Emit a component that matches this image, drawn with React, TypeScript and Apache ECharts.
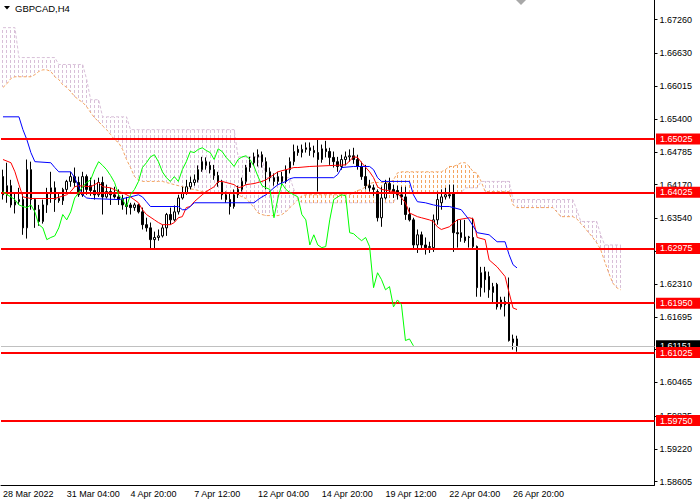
import React, { useEffect, useRef } from 'react';
import * as echarts from 'echarts';

// GBPCAD H4, bars from 28 Mar 2022 12:00, 164 slots (130 bars + 34 future)
const slotCount = 164;
const xTickLabels = ['28 Mar 2022', '31 Mar 04:00', '4 Apr 20:00', '7 Apr 12:00', '12 Apr 04:00', '14 Apr 20:00', '19 Apr 12:00', '22 Apr 04:00', '26 Apr 20:00'];
const yTickValues = [1.6726, 1.6663, 1.66015, 1.654, 1.64785, 1.6417, 1.6354, 1.62925, 1.6231, 1.61695, 1.6108, 1.60465, 1.59835, 1.5922, 1.58605];
const levels = [1.65025, 1.64025, 1.62975, 1.6195, 1.61025, 1.5975];
const lastPrice = 1.61151;

const open = [
  1.6432, 1.6398, 1.6415, 1.6379, 1.6385, 1.6389, 1.6336, 1.6445, 1.6389, 1.6370,
  1.6348, 1.6379, 1.6400, 1.6411, 1.6391, 1.6387, 1.6408, 1.6423, 1.6432, 1.6421,
  1.6398, 1.6432, 1.6415, 1.6406, 1.6398, 1.6421, 1.6394, 1.6404, 1.6398, 1.6394,
  1.6389, 1.6379, 1.6379, 1.6374, 1.6379, 1.6366, 1.6342, 1.6336, 1.6314, 1.6318,
  1.6321, 1.6336, 1.6361, 1.6351, 1.6366, 1.6392, 1.6402, 1.6413, 1.6421, 1.6426,
  1.6445, 1.6460, 1.6453, 1.6445, 1.6434, 1.6421, 1.6398, 1.6389, 1.6376, 1.6398,
  1.6408, 1.6423, 1.6449, 1.6458, 1.6469, 1.6473, 1.6460, 1.6441, 1.6430, 1.6423,
  1.6432, 1.6423, 1.6445, 1.6460, 1.6483, 1.6477, 1.6483, 1.6486, 1.6481, 1.6477,
  1.6464, 1.6484, 1.6479, 1.6468, 1.6460, 1.6451, 1.6464, 1.6469, 1.6471, 1.6464,
  1.6451, 1.6432, 1.6415, 1.6411, 1.6404, 1.6355, 1.6392, 1.6419, 1.6408, 1.6406,
  1.6398, 1.6394, 1.6361, 1.6351, 1.6304, 1.6323, 1.6304, 1.6299, 1.6299, 1.6351,
  1.6383, 1.6394, 1.6398, 1.6402, 1.6327, 1.6327, 1.6319, 1.6319, 1.6318, 1.6301,
  1.6224, 1.6254, 1.6245, 1.6215, 1.6230, 1.6188, 1.6198, 1.6194, 1.6121, 1.6128,
];
const close = [
  1.6398, 1.6415, 1.6379, 1.6385, 1.6389, 1.6336, 1.6445, 1.6389, 1.6370, 1.6348,
  1.6379, 1.6400, 1.6411, 1.6389, 1.6387, 1.6408, 1.6423, 1.6432, 1.6421, 1.6398,
  1.6432, 1.6408, 1.6406, 1.6398, 1.6421, 1.6394, 1.6404, 1.6398, 1.6394, 1.6389,
  1.6379, 1.6376, 1.6374, 1.6379, 1.6366, 1.6342, 1.6336, 1.6314, 1.6318, 1.6321,
  1.6336, 1.6361, 1.6351, 1.6366, 1.6392, 1.6402, 1.6413, 1.6421, 1.6426, 1.6445,
  1.6460, 1.6453, 1.6445, 1.6434, 1.6421, 1.6398, 1.6389, 1.6376, 1.6398, 1.6408,
  1.6423, 1.6449, 1.6458, 1.6469, 1.6473, 1.6460, 1.6441, 1.6430, 1.6423, 1.6432,
  1.6423, 1.6445, 1.6460, 1.6479, 1.6477, 1.6483, 1.6486, 1.6481, 1.6477, 1.6464,
  1.6484, 1.6479, 1.6468, 1.6460, 1.6451, 1.6464, 1.6469, 1.6471, 1.6464, 1.6451,
  1.6432, 1.6415, 1.6411, 1.6408, 1.6355, 1.6392, 1.6419, 1.6408, 1.6402, 1.6398,
  1.6394, 1.6361, 1.6351, 1.6304, 1.6323, 1.6304, 1.6299, 1.6301, 1.6351, 1.6389,
  1.6394, 1.6398, 1.6396, 1.6327, 1.6325, 1.6318, 1.6312, 1.6318, 1.6301, 1.6224,
  1.6252, 1.6239, 1.6220, 1.6226, 1.6188, 1.6201, 1.6192, 1.6125, 1.6128, 1.61151,
];
const low = [
  1.6389, 1.6383, 1.6374, 1.6363, 1.6379, 1.6323, 1.6316, 1.6370, 1.6336, 1.6340,
  1.6344, 1.6364, 1.6383, 1.6366, 1.6383, 1.6379, 1.6402, 1.6413, 1.6413, 1.6394,
  1.6394, 1.6398, 1.6396, 1.6389, 1.6394, 1.6361, 1.6391, 1.6379, 1.6391, 1.6379,
  1.6370, 1.6361, 1.6361, 1.6368, 1.6363, 1.6333, 1.6329, 1.6295, 1.6295, 1.6312,
  1.6318, 1.6321, 1.6342, 1.6348, 1.6361, 1.6389, 1.6398, 1.6408, 1.6415, 1.6421,
  1.6441, 1.6445, 1.6438, 1.6426, 1.6413, 1.6389, 1.6383, 1.6361, 1.6372, 1.6392,
  1.6404, 1.6417, 1.6441, 1.6453, 1.6451, 1.6449, 1.6408, 1.6423, 1.6415, 1.6417,
  1.6415, 1.6419, 1.6438, 1.6453, 1.6471, 1.6468, 1.6477, 1.6471, 1.6468, 1.6404,
  1.6458, 1.6468, 1.6454, 1.6449, 1.6441, 1.6445, 1.6453, 1.6460, 1.6456, 1.6445,
  1.6426, 1.6408, 1.6404, 1.6396, 1.6348, 1.6338, 1.6389, 1.6402, 1.6392, 1.6389,
  1.6379, 1.6351, 1.6348, 1.6295, 1.6289, 1.6295, 1.6286, 1.6289, 1.6291, 1.6342,
  1.6370, 1.6389, 1.6391, 1.6291, 1.6299, 1.6310, 1.6308, 1.6299, 1.6297, 1.6207,
  1.6207, 1.6215, 1.6205, 1.6196, 1.6183, 1.6183, 1.6170, 1.6123, 1.6108, 1.6104,
];
const high = [
  1.6445, 1.6458, 1.6426, 1.6402, 1.6411, 1.6402, 1.6464, 1.6460, 1.6392, 1.6379,
  1.6389, 1.6411, 1.6441, 1.6423, 1.6402, 1.6411, 1.6426, 1.6441, 1.6449, 1.6432,
  1.6441, 1.6436, 1.6430, 1.6426, 1.6430, 1.6432, 1.6417, 1.6411, 1.6413, 1.6408,
  1.6398, 1.6394, 1.6383, 1.6383, 1.6381, 1.6374, 1.6355, 1.6346, 1.6329, 1.6333,
  1.6342, 1.6364, 1.6374, 1.6378, 1.6398, 1.6413, 1.6426, 1.6432, 1.6436, 1.6453,
  1.6469, 1.6468, 1.6460, 1.6454, 1.6441, 1.6426, 1.6404, 1.6402, 1.6408, 1.6415,
  1.6430, 1.6454, 1.6469, 1.6477, 1.6483, 1.6479, 1.6468, 1.6449, 1.6438, 1.6441,
  1.6441, 1.6453, 1.6468, 1.6492, 1.6490, 1.6492, 1.6496, 1.6496, 1.6490, 1.6501,
  1.6492, 1.6499, 1.6486, 1.6479, 1.6469, 1.6473, 1.6479, 1.6483, 1.6486, 1.6473,
  1.6460, 1.6454, 1.6426, 1.6417, 1.6408, 1.6413, 1.6426, 1.6430, 1.6417, 1.6415,
  1.6413, 1.6413, 1.6374, 1.6355, 1.6333, 1.6329, 1.6318, 1.6310, 1.6361, 1.6404,
  1.6408, 1.6411, 1.6417, 1.6417, 1.6351, 1.6351, 1.6351, 1.6321, 1.6355, 1.6303,
  1.6263, 1.6263, 1.6254, 1.6233, 1.6233, 1.6207, 1.6207, 1.6243, 1.6136, 1.6134,
];

// Tenkan-sen and Kijun-sen, [bar index, price] at the points where they turn
const tenkan = [
  [0, 1.6464], [2, 1.6458], [3, 1.6441], [4, 1.6417], [5, 1.6394], [7, 1.6391], [13, 1.6391],
  [16, 1.6398], [17, 1.6404], [18, 1.6413], [19, 1.6415], [22, 1.6413], [24, 1.6421], [25, 1.6413],
  [27, 1.6411], [29, 1.6404], [30, 1.6402], [32, 1.6394], [34, 1.6383], [35, 1.6370], [36, 1.6361],
  [38, 1.6351], [39, 1.6346], [40, 1.6342], [42, 1.6342], [43, 1.6346], [44, 1.6355], [45, 1.6357],
  [46, 1.6374], [47, 1.6376], [48, 1.6385], [50, 1.6398], [51, 1.6404], [53, 1.6413], [54, 1.6423],
  [55, 1.6423], [56, 1.6421], [58, 1.6417], [59, 1.6411], [60, 1.6413], [61, 1.6417], [63, 1.6419],
  [65, 1.6423], [66, 1.6426], [68, 1.6436], [69, 1.6441], [71, 1.6445], [73, 1.6449], [74, 1.6449],
  [77, 1.6451], [86, 1.6454], [88, 1.6469], [89, 1.6468], [90, 1.6458], [92, 1.6441], [93, 1.6430],
  [94, 1.6413], [95, 1.6408], [98, 1.6404], [99, 1.6402], [100, 1.6392], [101, 1.6383], [102, 1.6364],
  [104, 1.6357], [105, 1.6355], [107, 1.6351], [108, 1.6348], [109, 1.6338], [110, 1.6333], [112, 1.6338],
  [114, 1.6351], [117, 1.6355], [118, 1.6353], [119, 1.6318], [121, 1.6314], [122, 1.6276], [124, 1.6263],
  [126, 1.6245], [127, 1.6215], [128, 1.6186], [129, 1.6183],
];
const kijun = [
  [0, 1.6544], [4, 1.6544], [5, 1.6520], [6, 1.6501], [7, 1.6477], [8, 1.6460], [12, 1.6458],
  [13, 1.6449], [14, 1.6441], [17, 1.6441], [18, 1.6430], [19, 1.6413], [20, 1.6398], [21, 1.6392],
  [22, 1.6391], [29, 1.6389], [32, 1.6394], [34, 1.6398], [35, 1.6394], [36, 1.6385], [37, 1.6376],
  [44, 1.6376], [45, 1.6370], [46, 1.6370], [47, 1.6376], [48, 1.6383], [63, 1.6383], [64, 1.6389],
  [65, 1.6394], [66, 1.6398], [68, 1.6411], [69, 1.6417], [71, 1.6423], [72, 1.6428], [73, 1.6430],
  [83, 1.6430], [84, 1.6436], [85, 1.6449], [88, 1.6451], [92, 1.6451], [93, 1.6445], [94, 1.6430],
  [95, 1.6423], [102, 1.6423], [103, 1.6398], [104, 1.6385], [106, 1.6383], [108, 1.6379], [110, 1.6376],
  [112, 1.6376], [115, 1.6370], [117, 1.6351], [119, 1.6327], [122, 1.6323], [124, 1.6310], [126, 1.6310],
  [127, 1.6286], [128, 1.6267], [129, 1.6261],
];

// Senkou span A and B, one value per slot (already displaced 26 bars ahead)
const spanA = [
  1.6599, 1.6606, 1.6616, 1.6619, 1.6619, 1.6619, 1.6619, 1.6619, 1.6623, 1.6629,
  1.6632, 1.6632, 1.6629, 1.6619, 1.6614, 1.6604, 1.6599, 1.6591, 1.6582, 1.6576,
  1.6571, 1.6563, 1.6552, 1.6542, 1.6535, 1.6527, 1.6520, 1.6511, 1.6501, 1.6496,
  1.6483, 1.6464, 1.6449, 1.6432, 1.6426, 1.6423, 1.6423, 1.6423, 1.6423, 1.6423,
  1.6423, 1.6421, 1.6419, 1.6417, 1.6415, 1.6413, 1.6411, 1.6409, 1.6408, 1.6406,
  1.6404, 1.6404, 1.6402, 1.6402, 1.6402, 1.6402, 1.6402, 1.6402, 1.6402, 1.6398,
  1.6394, 1.6391, 1.6383, 1.6374, 1.6364, 1.6361, 1.6359, 1.6359, 1.6359, 1.6359,
  1.6361, 1.6366, 1.6374, 1.6381, 1.6389, 1.6396, 1.6398, 1.6398, 1.6398, 1.6398,
  1.6398, 1.6398, 1.6398, 1.6398, 1.6398, 1.6398, 1.6398, 1.6398, 1.6402, 1.6406,
  1.6408, 1.6413, 1.6419, 1.6421, 1.6421, 1.6421, 1.6421, 1.6421, 1.6426, 1.6439,
  1.6441, 1.6441, 1.6441, 1.6441, 1.6441, 1.6441, 1.6441, 1.6441, 1.6441, 1.6441,
  1.6441, 1.6445, 1.6451, 1.6451, 1.6454, 1.6458, 1.6458, 1.6451, 1.6441, 1.6438,
  1.6423, 1.6404, 1.6404, 1.6404, 1.6404, 1.6404, 1.6404, 1.6404, 1.6379, 1.6374,
  1.6374, 1.6374, 1.6374, 1.6374, 1.6374, 1.6374, 1.6374, 1.6374, 1.6374, 1.6366,
  1.6357, 1.6357, 1.6357, 1.6357, 1.6353, 1.6344, 1.6336, 1.6327, 1.6318, 1.6308,
  1.6295, 1.6273, 1.6252, 1.6233, 1.6224, 1.6220,
];
const spanB = [
  1.6711, 1.6711, 1.6711, 1.6711, 1.6655, 1.6655, 1.6655, 1.6655, 1.6655, 1.6655,
  1.6655, 1.6655, 1.6655, 1.6655, 1.6642, 1.6642, 1.6642, 1.6642, 1.6642, 1.6642,
  1.6642, 1.6614, 1.6576, 1.6576, 1.6576, 1.6544, 1.6544, 1.6544, 1.6544, 1.6544,
  1.6544, 1.6544, 1.6520, 1.6520, 1.6520, 1.6520, 1.6520, 1.6520, 1.6520, 1.6520,
  1.6520, 1.6520, 1.6520, 1.6520, 1.6520, 1.6520, 1.6520, 1.6520, 1.6520, 1.6520,
  1.6520, 1.6520, 1.6520, 1.6520, 1.6520, 1.6520, 1.6520, 1.6520, 1.6520, 1.6469,
  1.6469, 1.6469, 1.6469, 1.6469, 1.6469, 1.6469, 1.6430, 1.6430, 1.6430, 1.6430,
  1.6430, 1.6430, 1.6430, 1.6408, 1.6389, 1.6383, 1.6383, 1.6383, 1.6383, 1.6383,
  1.6383, 1.6383, 1.6383, 1.6383, 1.6383, 1.6383, 1.6383, 1.6383, 1.6383, 1.6383,
  1.6383, 1.6383, 1.6383, 1.6383, 1.6383, 1.6383, 1.6383, 1.6383, 1.6383, 1.6402,
  1.6402, 1.6402, 1.6402, 1.6402, 1.6402, 1.6402, 1.6402, 1.6402, 1.6402, 1.6402,
  1.6402, 1.6402, 1.6402, 1.6402, 1.6402, 1.6402, 1.6411, 1.6411, 1.6411, 1.6411,
  1.6423, 1.6423, 1.6423, 1.6423, 1.6423, 1.6423, 1.6423, 1.6423, 1.6389, 1.6389,
  1.6389, 1.6389, 1.6389, 1.6389, 1.6389, 1.6389, 1.6389, 1.6389, 1.6389, 1.6389,
  1.6389, 1.6389, 1.6389, 1.6389, 1.6370, 1.6348, 1.6348, 1.6348, 1.6348, 1.6348,
  1.6323, 1.6304, 1.6304, 1.6304, 1.6304, 1.6304,
];
const chikouShift = 26;

export default function App() {
  const chartRef = useRef<HTMLDivElement>(null);

  useEffect(() => {
    if (!chartRef.current) return;
    const chart = echarts.init(chartRef.current, undefined, { renderer: 'svg' });

    const font = '"Liberation Sans", Arial, sans-serif';
    const categories = Array.from({ length: slotCount }, (_, i) => String(i));
    const candles = open.map((o, i) => [o, close[i], low[i], high[i]]);
    const chikou = close.slice(chikouShift).map((v, i) => [i, v]);
    const cloud = spanA.map((a, i) => [i, a, spanB[i]]);

    const option = {
      animation: false,
      backgroundColor: '#ffffff',
      grid: { left: -1.5, top: 0, width: 656, height: 485 },
      xAxis: {
        type: 'category',
        data: categories,
        boundaryGap: true,
        axisLine: { lineStyle: { color: '#000', width: 1 } },
        axisTick: { alignWithLabel: true, interval: 15, length: 4, lineStyle: { color: '#000' } },
        axisLabel: {
          interval: 15,
          align: 'left',
          margin: 4,
          color: '#000',
          fontSize: 9,
          fontFamily: font,
          formatter: (_v: string, idx: number) => xTickLabels[idx / 16] ?? '',
        },
        splitLine: { show: false },
      },
      yAxis: {
        type: 'value',
        position: 'right',
        min: 1.58544,
        max: 1.67628,
        axisLine: { show: true, lineStyle: { color: '#000', width: 1 } },
        axisTick: { show: true, inside: false, length: 3, customValues: yTickValues, lineStyle: { color: '#000' } },
        axisLabel: {
          customValues: yTickValues,
          margin: 5,
          color: '#000',
          fontSize: 9,
          fontFamily: font,
          formatter: (v: number) => v.toFixed(5),
        },
        splitLine: { show: false },
      },
      graphic: [
        { type: 'polygon', shape: { points: [[4, 6], [10, 6], [7, 9.5]] }, style: { fill: '#000' } },
        {
          type: 'text',
          x: 15,
          y: 8,
          style: { text: 'GBPCAD,H4', fill: '#000', fontSize: 9.5, fontFamily: font, verticalAlign: 'middle' },
        },
        { type: 'polygon', shape: { points: [[516, 0], [526, 0], [521, 5]] }, style: { fill: '#a8a8a8' } },
      ],
      series: [
        {
          type: 'custom',
          name: 'kumo',
          z: 1,
          silent: true,
          data: cloud,
          encode: { x: 0, y: [1, 2] },
          renderItem: (_p: any, api: any) => {
            const i = api.value(0);
            const a = api.value(1);
            const b = api.value(2);
            if (a === b) return null;
            const pa = api.coord([i, a]);
            const pb = api.coord([i, b]);
            const x = Math.round(pa[0] - 0.5) + 0.5;
            const top = Math.round(Math.min(pa[1], pb[1]));
            const bottom = Math.round(Math.max(pa[1], pb[1]));
            return {
              type: 'line',
              shape: { x1: x, y1: top, x2: x, y2: bottom },
              style: {
                stroke: a > b ? '#F4A460' : '#D8BFD8',
                lineWidth: 1,
                lineDash: [3, 2],
                lineDashOffset: top % 5,
              },
            };
          },
        },
        {
          type: 'line',
          name: 'Senkou Span A',
          z: 2,
          data: spanA,
          symbol: 'none',
          silent: true,
          lineStyle: { color: '#F4A460', width: 1, type: [3, 2] },
        },
        {
          type: 'line',
          name: 'Senkou Span B',
          z: 2,
          data: spanB,
          symbol: 'none',
          silent: true,
          lineStyle: { color: '#D8BFD8', width: 1, type: [3, 2] },
        },
        {
          type: 'candlestick',
          name: 'GBPCAD',
          z: 3,
          data: candles,
          barWidth: 2,
          silent: true,
          itemStyle: {
            color: '#ffffff',
            color0: '#000000',
            borderColor: '#000000',
            borderColor0: '#000000',
            borderWidth: 1,
          },
        },
        {
          type: 'line',
          name: 'Tenkan-sen',
          z: 4,
          data: tenkan,
          symbol: 'none',
          silent: true,
          lineStyle: { color: '#ff0000', width: 1 },
        },
        {
          type: 'line',
          name: 'Kijun-sen',
          z: 4,
          data: kijun,
          symbol: 'none',
          silent: true,
          lineStyle: { color: '#0000ff', width: 1 },
        },
        {
          type: 'line',
          name: 'Chikou Span',
          z: 5,
          data: chikou,
          symbol: 'none',
          silent: true,
          lineStyle: { color: '#00ff00', width: 1 },
          markLine: {
            silent: true,
            symbol: ['none', 'none'],
            precision: 5,
            animation: false,
            lineStyle: { color: '#ff0000', width: 2, type: 'solid' },
            label: {
              show: true,
              position: 'end',
              distance: 1.5,
              color: '#ffffff',
              backgroundColor: '#ff0000',
              fontSize: 9,
              fontFamily: font,
              lineHeight: 10,
              padding: [1, 12, 0, 4],
              formatter: (p: any) => Number(p.value).toFixed(5),
            },
            data: [
              {
                yAxis: lastPrice,
                lineStyle: { color: '#c0c0c0', width: 1, type: 'solid' },
                label: { backgroundColor: '#000000', color: '#ffffff' },
              },
              ...levels.map((v) => ({ yAxis: v })),
            ],
          },
        },
      ],
    };

    chart.setOption(option as any);
    return () => {
      chart.dispose();
    };
  }, []);

  return (
    <div
      ref={chartRef}
      style={{ position: 'fixed', left: 0, top: 0, width: 700, height: 500, background: '#fff' }}
    />
  );
}
